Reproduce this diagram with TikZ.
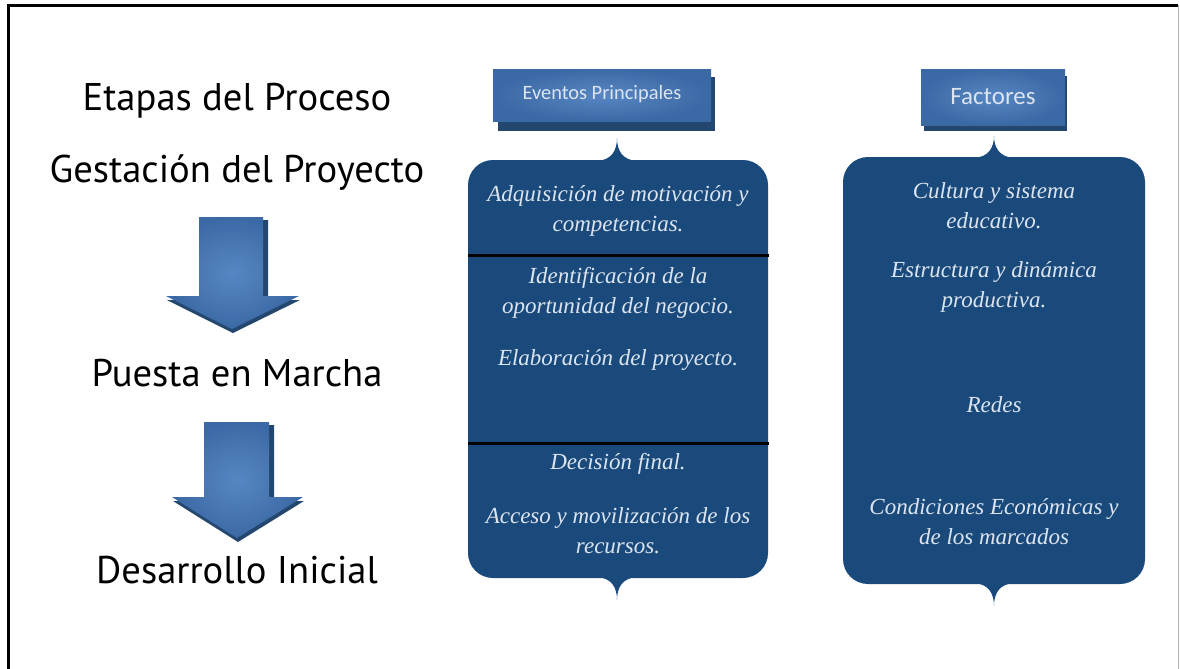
\documentclass[tikz,border=0pt]{standalone}
\usepackage{fontspec}
\setmainfont{Liberation Serif}
\newfontfamily\labfont{PT Sans}
\newfontfamily\capfont{Carlito}
\definecolor{boxblue}{HTML}{1A4A7B}
\definecolor{txtblue}{HTML}{DCE4EF}
\definecolor{headblue}{HTML}{5787C2}
\definecolor{headedge}{HTML}{3B69A5}
\definecolor{shadblue}{HTML}{24476F}
\tikzset{
  etapa/.style={font=\labfont\fontsize{19.3}{22}\selectfont},
  evento/.style={text=txtblue, align=center, font=\itshape\fontsize{11.5}{15}\selectfont},
  cabecera/.style={text=txtblue, font=\capfont\fontsize{10.2}{12}\selectfont},
}
\begin{document}
\begin{tikzpicture}[x=0.5pt, y=-0.5pt]
			\useasboundingbox (0,0) rectangle (1180,669);
			% marco
			\draw[line width=1.5pt] (8,669) -- (8,5) -- (1178,5);
			\draw[gray!60, line width=0.5pt] (1178,5) -- (1178,669);
			% etapas
			\node[etapa] (etapas) at (237,101) {Etapas del Proceso};
			\node[etapa] (gestacion) at (237,173) {Gestación del Proyecto};
			\node[etapa] (puesta) at (237,373) {Puesta en Marcha};
			\node[etapa] (desarrollo) at (237,570) {Desarrollo Inicial};
			% flechas
			\fill[shadblue] (203,220) -- (268,220) -- (268,300) -- (300,300) -- (233,333) -- (167,300) -- (203,300) -- cycle;
			\shade[inner color=headblue, outer color=headedge] (199,217) -- (263,217) -- (263,296) -- (299,296) -- (232,329) -- (166,296) -- (199,296) -- cycle;
			\fill[shadblue] (208,425) -- (274,425) -- (274,501) -- (304,501) -- (238,542) -- (173,501) -- (208,501) -- cycle;
			\shade[inner color=headblue, outer color=headedge] (204,422) -- (269,422) -- (269,497) -- (303,497) -- (237,538) -- (172,497) -- (204,497) -- cycle;
			% cabeceras
			\fill[shadblue] (498,77) rectangle (715,131);
			\shade[inner color=headblue, outer color=headedge] (493,69) rectangle (711,121);
			\node[cabecera] (eventos) at (602,94) {Eventos Principales};
			\fill[shadblue] (924,76) rectangle (1067,131);
			\shade[inner color=headblue, outer color=headedge] (921,69) rectangle (1065,125);
			\node[cabecera, font=\capfont\fontsize{12.5}{14}\selectfont] (factores) at (993,97) {Factores};
			% cajas
			\fill[boxblue, rounded corners=12.5pt] (468,160) rectangle (768,578);
			\fill[boxblue] (597,161) .. controls (612,160) and (617,150) .. (617,138) .. controls (617,150) and (622,160) .. (637,161) -- cycle;
			\fill[boxblue] (597,577) .. controls (612,578) and (617,588) .. (617,600) .. controls (617,588) and (622,578) .. (637,577) -- cycle;
			\draw[line width=1.5pt] (468,255) -- (769,255) (468,443) -- (769,443);
			\fill[boxblue, rounded corners=12.5pt] (843,157) rectangle (1145,584);
			\fill[boxblue] (974,158) .. controls (989,157) and (994,147) .. (994,136) .. controls (994,147) and (999,157) .. (1014,158) -- cycle;
			\fill[boxblue] (974,583) .. controls (989,584) and (994,594) .. (994,606) .. controls (994,594) and (999,584) .. (1014,583) -- cycle;
			% textos
			\node[evento] (adquisicion) at (618,211) {Adquisición de motivación y\\competencias.};
			\node[evento] (identificacion) at (618,293) {Identificación de la\\oportunidad del negocio.};
			\node[evento] (elaboracion) at (618,360) {Elaboración del proyecto.};
			\node[evento] (decision) at (618,464) {Decisión final.};
			\node[evento] (acceso) at (618,531) {Acceso y movilización de los\\recursos.};
			\node[evento] (cultura) at (994,206) {Cultura y sistema\\educativo.};
			\node[evento] (estructura) at (994,287) {Estructura y dinámica\\productiva.};
			\node[evento] (redes) at (994,405) {Redes};
			\node[evento] (condiciones) at (994,522) {Condiciones Económicas y\\de los marcados};
		\end{tikzpicture}
\end{document}
